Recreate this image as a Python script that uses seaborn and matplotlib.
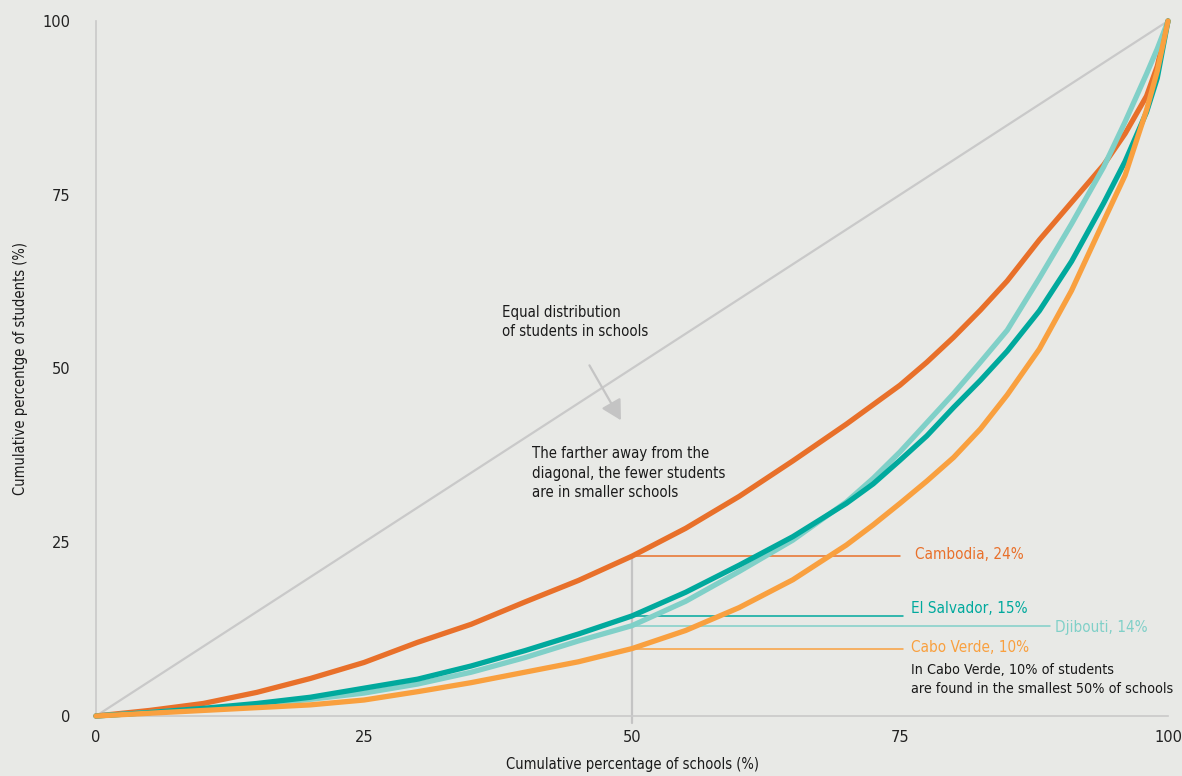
import matplotlib
matplotlib.use('Agg')
import matplotlib.pyplot as plt
from matplotlib import font_manager
import seaborn as sns
import pandas as pd

sns.set_theme(style="white")

# cumulative percentage of schools (x) and of students (y)
schools_pct = [0, 5, 10, 15, 20, 25, 30, 35, 40, 45, 50, 55, 60, 65, 70, 72.5, 75,
               77.5, 80, 82.5, 85, 88, 91, 94, 96, 98, 99, 100]
cambodia = [0, 0.8, 1.8, 3.4, 5.4, 7.7, 10.6, 13.2, 16.4, 19.5, 23.0, 27.0, 31.6,
            36.7, 42.0, 44.8, 47.6, 50.9, 54.5, 58.4, 62.6, 68.5, 73.9, 79.3, 83.8,
            89.2, 93.5, 100]
el_salvador = [0, 0.5, 1.1, 1.8, 2.7, 4.0, 5.3, 7.2, 9.4, 11.8, 14.4, 17.8, 21.7,
               25.8, 30.6, 33.4, 36.8, 40.3, 44.4, 48.3, 52.5, 58.3, 65.4, 73.8, 79.8,
               86.9, 91.8, 100]
djibouti = [0, 0.5, 1.0, 1.6, 2.4, 3.3, 4.6, 6.3, 8.4, 10.8, 13.0, 16.5, 20.8,
            25.3, 30.8, 34.2, 38.0, 42.2, 46.4, 50.9, 55.5, 63.0, 70.8, 79.0, 85.5,
            92.4, 96.0, 100]
cabo_verde = [0, 0.4, 0.8, 1.2, 1.6, 2.3, 3.5, 4.8, 6.3, 7.8, 9.7, 12.3, 15.6,
              19.6, 24.6, 27.5, 30.6, 33.8, 37.2, 41.3, 46.2, 52.8, 61.2, 71.2, 77.8,
              87.2, 92.8, 100]
equal_line = [0, 100]

countries = ['Cambodia', 'Djibouti', 'El Salvador', 'Cabo Verde']
labels = ['Cambodia, 24%', 'Djibouti, 14%', 'El Salvador, 15%', 'Cabo Verde, 10%']
colors = ['#e8702a', '#80d0c8', '#00a99d', '#f9a03f']
series = [cambodia, djibouti, el_salvador, cabo_verde]

bg = '#e8e9e6'
grey = '#c9c9c9'

# pick a narrow face for the annotations if one is installed
installed = {(f.name, f.stretch) for f in font_manager.fontManager.ttflist}
narrow = dict(family=['Roboto', 'DejaVu Sans'], fontstretch='normal')
for name, stretch in [('Liberation Sans Narrow', 'normal'), ('Roboto Condensed', 'normal'),
                      ('DejaVu Sans', 'condensed'), ('Open Sans', 'condensed')]:
    if (name, stretch) in installed:
        narrow = dict(family=[name, 'DejaVu Sans'], fontstretch=stretch)
        break

df = pd.concat([pd.DataFrame({'schools': schools_pct, 'students': s, 'country': c})
                for c, s in zip(countries, series)])

fig = plt.figure(figsize=(11.82, 7.76), dpi=100, facecolor=bg)
ax = fig.add_axes([96/1182, 60/776, 1072/1182, 695/776])
ax.set_facecolor(bg)

# diagonal of equal distribution
sns.lineplot(x=equal_line, y=equal_line, color=grey, linewidth=1.6, ax=ax)

# guide at 50% of schools
i50 = schools_pct.index(50)
ax.plot([50, 50], [-1, cambodia[i50]], color='#c4c4c4', linewidth=1.6,
        clip_on=False, zorder=1)
ends = {'Cambodia': 75.0, 'Djibouti': 89.0, 'El Salvador': 75.3, 'Cabo Verde': 75.3}
for c, s, col in zip(countries, series, colors):
    ax.plot([50, ends[c]], [s[i50], s[i50]], color=col, linewidth=1.1, zorder=1)

sns.lineplot(data=df, x='schools', y='students', hue='country', hue_order=countries,
             palette=colors, linewidth=3.8, legend=False, ax=ax, zorder=3)
for line in ax.get_lines()[-4:]:
    line.set_clip_on(False)
    line.set_solid_joinstyle('round')

# country labels
lab_pos = {'Cambodia': (76.4, 23.2), 'Djibouti': (89.5, 12.8),
           'El Salvador': (76.0, 15.4), 'Cabo Verde': (76.0, 9.8)}
for c, lab, col in zip(countries, labels, colors):
    x, y = lab_pos[c]
    ax.text(x, y, lab, color=col, fontsize=11, va='center', ha='left', **narrow)

ax.text(76.0, 7.6, 'In Cabo Verde, 10% of students\nare found in the smallest 50% of schools',
        fontsize=10.3, va='top', ha='left', color='#1a1a1a', linespacing=1.4, **narrow)
ax.text(37.9, 59.2, 'Equal distribution\nof students in schools', fontsize=10.7,
        va='top', ha='left', color='#1a1a1a', linespacing=1.35, **narrow)
ax.text(40.7, 38.8, 'The farther away from the\ndiagonal, the fewer students\nare in smaller schools',
        fontsize=10.7, va='top', ha='left', color='#1a1a1a', linespacing=1.35, **narrow)
ax.annotate('', xy=(49.1, 42.2), xytext=(45.9, 50.8),
            arrowprops=dict(arrowstyle='-|>,head_length=1.0,head_width=0.55',
                            color='#c4c4c4', lw=1.6))

ax.set_xlim(0, 100)
ax.set_ylim(0, 100)
ax.set_xticks([0, 25, 50, 75, 100])
ax.set_yticks([0, 25, 50, 75, 100])
for sp in ['top', 'right']:
    ax.spines[sp].set_visible(False)
for sp in ['left', 'bottom']:
    ax.spines[sp].set_color(grey)
    ax.spines[sp].set_linewidth(1.2)
ax.tick_params(axis='y', length=10, width=1, color=grey, pad=8.5,
               labelsize=10.5, labelcolor='#222222')
ax.tick_params(axis='x', length=0, pad=10, labelsize=10.5, labelcolor='#222222')
ax.set_xlabel('Cumulative percentage of schools (%)', fontsize=10.5, color='#1a1a1a',
              labelpad=9, **narrow)
ax.set_ylabel('Cumulative percentge of students (%)', fontsize=10.5, color='#1a1a1a',
              labelpad=10, **narrow)

fig.savefig('out.png', dpi=100, facecolor=bg)
